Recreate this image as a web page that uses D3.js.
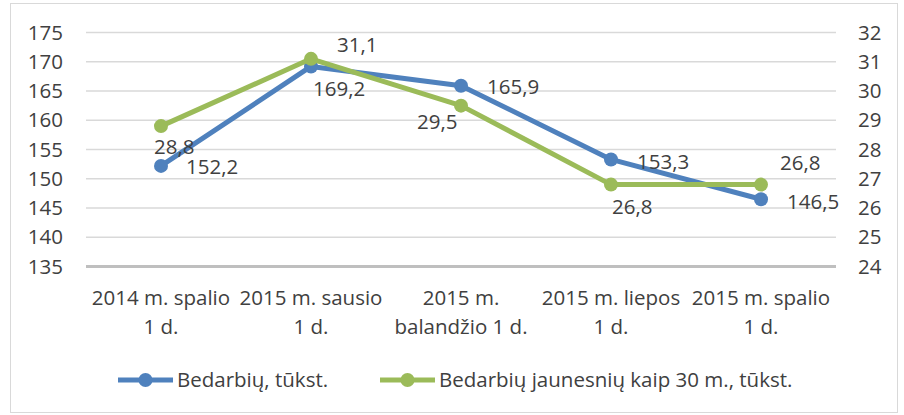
<!DOCTYPE html>
<meta charset="utf-8">
<style>

body {
  margin: 0;
  background: #fff;
}

svg {
  font-family: "Open Sans", sans-serif;
}

.tick-label, .cat-label, .data-label, .legend-label {
  fill: #404040;
  font-size: 20.5px;
}

.grid {
  stroke: #d9d9d9;
  stroke-width: 1.5px;
}

.series {
  fill: none;
  stroke-width: 5px;
  stroke-linejoin: round;
}

</style>
<body>
<svg width="904" height="415"></svg>
<script src="https://d3js.org/d3.v7.min.js"></script>
<script>

var categories = [
  ["2014 m. spalio", "1 d."],
  ["2015 m. sausio", "1 d."],
  ["2015 m.", "balandžio 1 d."],
  ["2015 m. liepos", "1 d."],
  ["2015 m. spalio", "1 d."]
];
var unemployed = [152.2, 169.2, 165.9, 153.3, 146.5];
var youth = [28.8, 31.1, 29.5, 26.8, 26.8];
var leftTicks = [135, 140, 145, 150, 155, 160, 165, 170, 175];
var rightTicks = [24, 25, 26, 27, 28, 29, 30, 31, 32];
var seriesNames = ["Bedarbių, tūkst.", "Bedarbių jaunesnių kaip 30 m., tūkst."];

// label offsets from each point (dx = left edge of text, dy = text centre)
var blueOffsets = [[25, 1], [2, 22], [26, 1], [26, 2], [26, 3]];
var greenOffsets = [[-7, 21], [26, -14], [-44, 16], [1, 22], [19, -22]];

var blue = "#4f81bd",
    green = "#9bbb59";

var svg = d3.select("svg");

// chart frame
svg.append("rect")
    .attr("x", 10.5).attr("y", 3.5)
    .attr("width", 887).attr("height", 409)
    .attr("fill", "none")
    .attr("stroke", "#d9d9d9");

var x = d3.scaleBand()
    .domain(d3.range(categories.length))
    .range([86, 836]);

var yLeft = d3.scaleLinear().domain([135, 175]).range([266.5, 32.5]);
var yRight = d3.scaleLinear().domain([24, 32]).range([266.5, 32.5]);

function cx(i) { return x(i) + x.bandwidth() / 2; }

// gridlines
svg.selectAll(".grid")
    .data(leftTicks.slice(1))
    .enter().append("line")
    .attr("class", "grid")
    .attr("x1", 86).attr("x2", 836)
    .attr("y1", function(d) { return yLeft(d); })
    .attr("y2", function(d) { return yLeft(d); });

// base axis
svg.append("line")
    .attr("x1", 86).attr("x2", 836)
    .attr("y1", yLeft(135)).attr("y2", yLeft(135))
    .attr("stroke", "#bfbfbf")
    .attr("stroke-width", 3);

// left tick labels
svg.selectAll(".tl")
    .data(leftTicks)
    .enter().append("text")
    .attr("class", "tick-label")
    .attr("x", 63)
    .attr("y", function(d) { return yLeft(d); })
    .attr("dy", "0.35em")
    .attr("text-anchor", "end")
    .text(function(d) { return d; });

// right tick labels
svg.selectAll(".tr")
    .data(rightTicks)
    .enter().append("text")
    .attr("class", "tick-label")
    .attr("x", 858)
    .attr("y", function(d) { return yRight(d); })
    .attr("dy", "0.35em")
    .attr("text-anchor", "start")
    .text(function(d) { return d; });

// category labels
var cat = svg.selectAll(".cat")
    .data(categories)
    .enter().append("text")
    .attr("class", "cat-label")
    .attr("text-anchor", "middle");

cat.selectAll("tspan")
    .data(function(d, i) { return d.map(function(t) { return {t: t, i: i}; }); })
    .enter().append("tspan")
    .attr("x", function(d) { return cx(d.i); })
    .attr("y", function(d, j) { return 298 + j * 29; })
    .attr("dy", "0.35em")
    .text(function(d) { return d.t; });

function drawSeries(values, scale, color) {
  var line = d3.line()
      .x(function(d, i) { return cx(i); })
      .y(function(d) { return scale(d); });

  svg.append("path")
      .datum(values)
      .attr("class", "series")
      .attr("stroke", color)
      .attr("d", line);

  svg.append("g").selectAll("circle")
      .data(values)
      .enter().append("circle")
      .attr("cx", function(d, i) { return cx(i); })
      .attr("cy", function(d) { return scale(d); })
      .attr("r", 7)
      .attr("fill", color);
}

drawSeries(unemployed, yLeft, blue);
drawSeries(youth, yRight, green);

function drawLabels(values, scale, offsets) {
  svg.append("g").selectAll("text")
      .data(values)
      .enter().append("text")
      .attr("class", "data-label")
      .attr("x", function(d, i) { return cx(i) + offsets[i][0]; })
      .attr("y", function(d, i) { return scale(d) + offsets[i][1]; })
      .attr("dy", "0.35em")
      .text(function(d) { return d.toFixed(1).replace(".", ","); });
}

drawLabels(unemployed, yLeft, blueOffsets);
drawLabels(youth, yRight, greenOffsets);

// legend
var legendX = [118, 380];
var legendColors = [blue, green];

var legend = svg.selectAll(".legend")
    .data(seriesNames)
    .enter().append("g")
    .attr("transform", function(d, i) { return "translate(" + legendX[i] + ",380)"; });

legend.append("line")
    .attr("x1", 0).attr("x2", 55)
    .attr("stroke", function(d, i) { return legendColors[i]; })
    .attr("stroke-width", 5);

legend.append("circle")
    .attr("cx", 27.5).attr("r", 7)
    .attr("fill", function(d, i) { return legendColors[i]; });

legend.append("text")
    .attr("class", "legend-label")
    .attr("x", 59)
    .attr("dy", "0.35em")
    .text(function(d) { return d; });

</script>
